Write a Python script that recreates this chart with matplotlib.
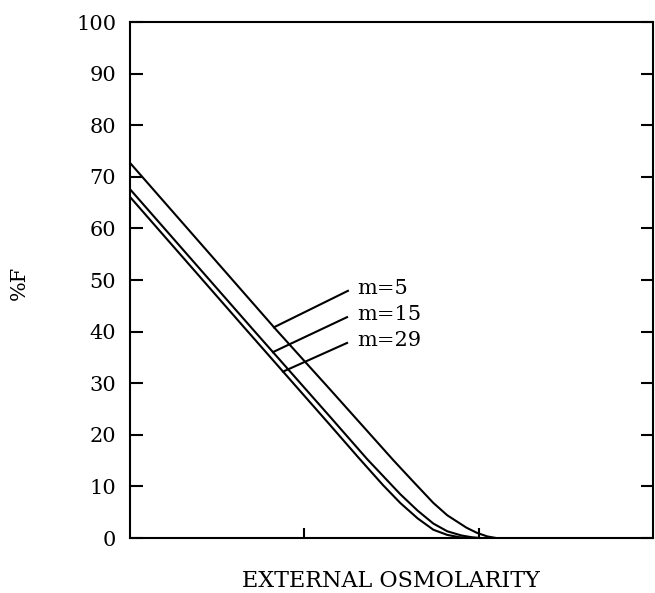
import matplotlib
matplotlib.use("Agg")
import matplotlib.pyplot as plt
import numpy as np

# Data
m5_x = [0, 0.84, 1.15, 1.51, 1.62, 1.74, 1.82, 1.93, 1.99, 2.05, 2.10]
m5_y = [72.7, 40.3, 28.7, 15.1, 11.1, 6.8, 4.4, 2.0, 1.0, 0.3, 0]
m15_x = [0, 0.69, 1.15, 1.36, 1.55, 1.65, 1.74, 1.82, 1.90, 1.96, 2.01]
m15_y = [67.6, 41.0, 23.4, 15.3, 8.5, 5.3, 2.8, 1.3, 0.5, 0.15, 0]
m29_x = [0, 0.65, 1.15, 1.31, 1.45, 1.55, 1.65, 1.74, 1.82, 1.89, 1.95]
m29_y = [66.1, 41.0, 21.8, 15.6, 10.3, 6.8, 3.8, 1.6, 0.6, 0.15, 0]

labels = ["m=5", "m=15", "m=29"]
leader_start_x = [0.826, 0.820, 0.878]
leader_end = [(1.25, 47.9), (1.245, 42.8), (1.245, 37.8)]
label_pos = [(1.302, 48.4), (1.302, 43.4), (1.302, 38.2)]

yticks = [0, 10, 20, 30, 40, 50, 60, 70, 80, 90, 100]
xticks = [1, 2]

plt.rcParams['font.family'] = ['DejaVu Serif']
fig = plt.figure(figsize=(6.55, 5.93), dpi=100)
ax = fig.add_axes([130/655, 55/593, 523/655, 516/593])

lw = 1.5
for xs, ys in [(m5_x, m5_y), (m15_x, m15_y), (m29_x, m29_y)]:
    ax.plot(xs, ys, color='black', lw=lw, solid_joinstyle='round')

curves = [(m5_x, m5_y), (m15_x, m15_y), (m29_x, m29_y)]
for (xs, ys), lx, (ex, ey), (tx, ty), lab in zip(curves, leader_start_x, leader_end, label_pos, labels):
    sy = np.interp(lx, xs, ys)
    ax.plot([lx, ex], [sy, ey], color='black', lw=lw)
    ax.text(tx, ty, lab, ha='left', va='center', fontsize=15)

ax.set_xlim(0, 3)
ax.set_ylim(0, 100)
ax.set_yticks(yticks)
ax.set_xticks(xticks)
ax.set_xticklabels([])
ax.tick_params(axis='y', direction='in', length=9, width=1.5, labelsize=15, pad=10,
               right=True)
ax.tick_params(axis='x', direction='in', length=7, width=1.5, top=False)
for s in ax.spines.values():
    s.set_linewidth(1.5)

fig.text(19/655, 1 - 283/593, "%F", rotation=90, ha='center', va='center', fontsize=15)
fig.text(391/655, 1 - 581/593, "EXTERNAL OSMOLARITY", ha='center', va='center', fontsize=16)

fig.savefig("out.png", dpi=100)
